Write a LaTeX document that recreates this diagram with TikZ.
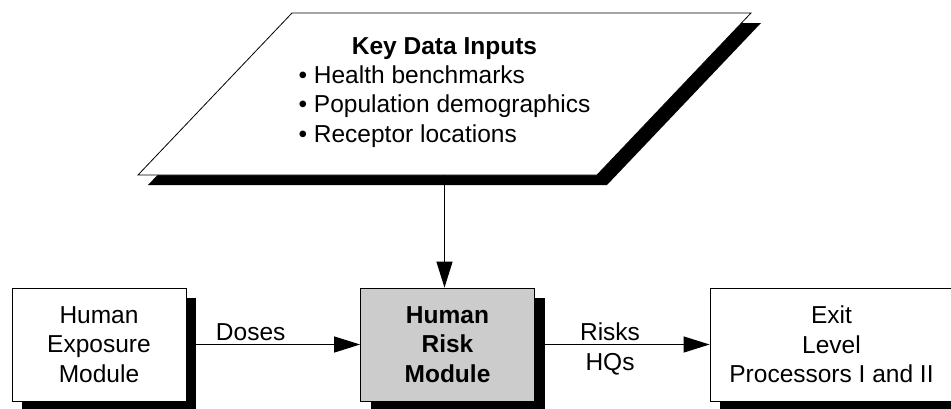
\documentclass[tikz,border=0pt]{standalone}
\usepackage{fontspec}
\setmainfont{Liberation Sans}
\usetikzlibrary{shadows,arrows.meta}
\begin{document}
\begin{tikzpicture}[x=1pt, y=-1pt, font=\fontsize{24.5}{29.5}\selectfont,
	blackshadow/.style={drop shadow={shadow xshift=10pt, shadow yshift=-10pt, fill=black, opacity=1}},
	module/.style={draw, line width=0.8pt, fill=white, minimum width=174pt, minimum height=113pt, inner sep=0pt, align=center, blackshadow},
	flow/.style={line width=1.2pt, -{Triangle[length=26pt,width=16pt]}}]
	%frame
	\useasboundingbox (0,0) rectangle (951,408);
	\clip (0,0) rectangle (951,408);
	%inputs
	\draw[line width=0.8pt, fill=white, blackshadow] (138,175) -- (597,175) -- (751,13) -- (292,13) -- cycle;
	\coordinate (inputs base) at (444.5,175);
	\node[align=center, inner sep=0pt] (inputs) at (444.5,94.5)
	{\textbf{Key Data Inputs}\\[2pt]
		\begin{tabular}{@{}l@{}}
			\textbullet{} Health benchmarks\\
			\textbullet{} Population demographics\\
			\textbullet{} Receptor locations
		\end{tabular}};
	%modules
	\node[module] (exposure) at (99,344.5) {Human\\Exposure\\Module};
	\node[module, fill=gray!40] (risk) at (447.5,344.5) {\textbf{Human}\\\textbf{Risk}\\\textbf{Module}};
	\node[module, minimum width=243pt] (exit) at (831.5,344.5) {Exit\\Level\\Processors I and II};
	%flows
	\draw[flow] (inputs base) -- (inputs base |- risk.north);
	\draw[flow] (exposure.east) -- node[above, pos=0.37, inner sep=3pt] (doses) {Doses} (risk.west);
	\draw[flow] (risk.east) -- node[above, pos=0.43, inner sep=3pt] (risks) {Risks}
		node[below, pos=0.43, inner sep=8pt] (hqs) {HQs} (exit.west);
\end{tikzpicture}
\end{document}
